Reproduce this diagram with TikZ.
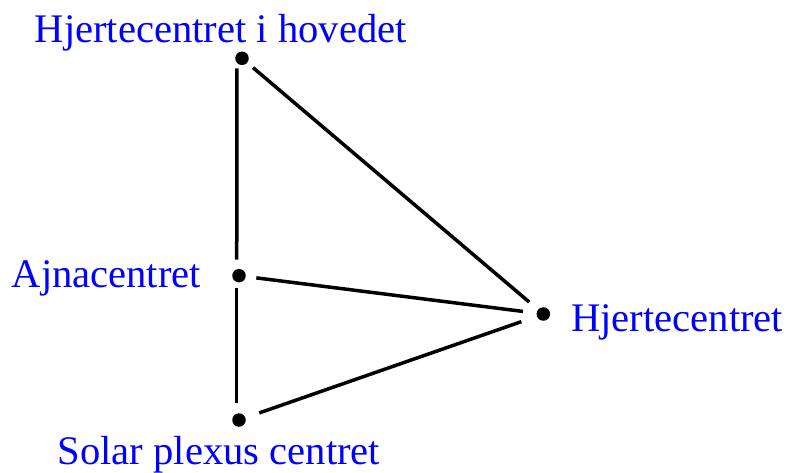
\documentclass[tikz,border=0pt]{standalone}
\usepackage{fontspec}
\setmainfont{Liberation Serif}
\begin{document}
\begin{tikzpicture}[x=1pt,y=-1pt,
  dot/.style={circle,fill=black,inner sep=0pt,minimum size=13.5pt},
  conn/.style={line width=3.5pt},
  lbl/.style={text=blue,anchor=base west,inner sep=0pt,font=\fontsize{40.6}{48}\selectfont}]
\useasboundingbox (0,0) rectangle (787,473);
\node[dot] (t) at (242,58.3) {};
\node[dot] (m) at (239,275.7) {};
\node[dot] (b) at (239,420) {};
\node[dot] (r) at (543.3,314) {};
\node[lbl] (lt) at (34.5,42.7) {Hjertecentret i hovedet};
\node[lbl] (lm) at (11.5,287.7) {Ajnacentret};
\node[lbl] (lr) at (571,331.7) {Hjertecentret};
\node[lbl] (lb) at (57.5,464) {Solar plexus centret};
\draw[conn,shorten <=10pt,shorten >=16pt] ([xshift=-5pt]t.center) -- ([xshift=-2.3pt]m.center);
\draw[conn,shorten <=12pt,shorten >=17pt] ([xshift=-2.3pt]m.center) -- ([xshift=-2.3pt]b.center);
\draw[conn,shorten <=7.5pt,shorten >=11.5pt] (t) -- (r);
\draw[conn,shorten <=10.5pt,shorten >=13.5pt] (m) -- (r);
\draw[conn,shorten <=14.5pt,shorten >=16.3pt] (b) -- (r);
\end{tikzpicture}
\end{document}
